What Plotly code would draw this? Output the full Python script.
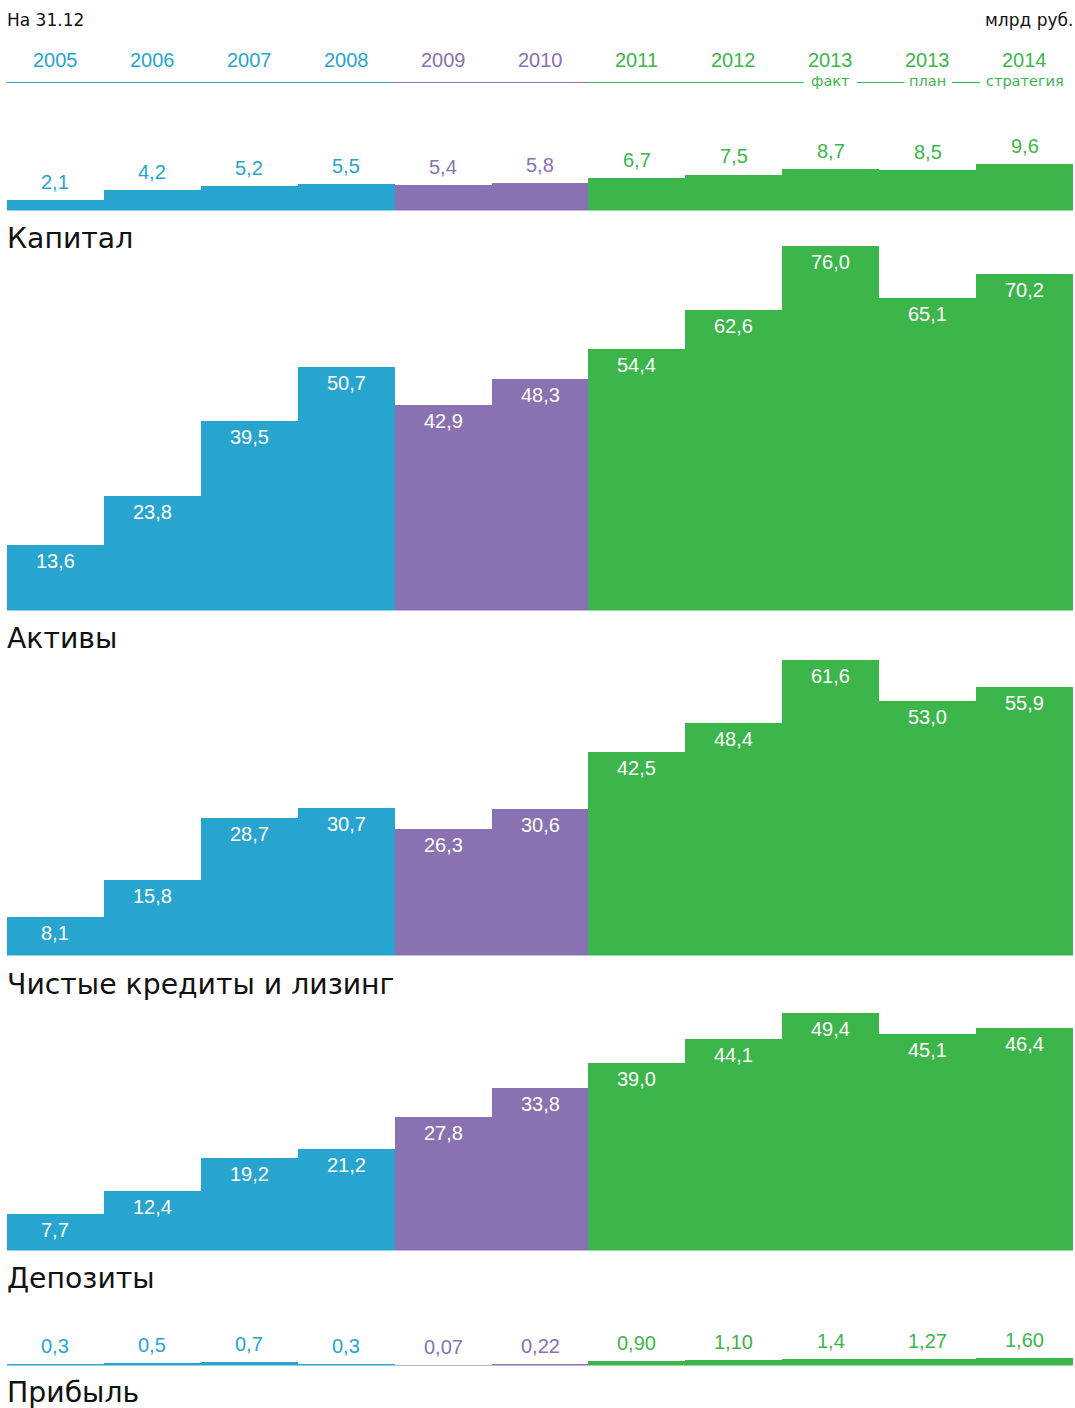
import plotly.graph_objects as go

years = ["2005", "2006", "2007", "2008", "2009", "2010", "2011", "2012", "2013", "2013", "2014"]
sub_labels = ["", "", "", "", "", "", "", "", "факт", "план", "стратегия"]
groups = ["a", "a", "a", "a", "b", "b", "c", "c", "c", "c", "c"]

capital = [2.1, 4.2, 5.2, 5.5, 5.4, 5.8, 6.7, 7.5, 8.7, 8.5, 9.6]
assets = [13.6, 23.8, 39.5, 50.7, 42.9, 48.3, 54.4, 62.6, 76.0, 65.1, 70.2]
loans = [8.1, 15.8, 28.7, 30.7, 26.3, 30.6, 42.5, 48.4, 61.6, 53.0, 55.9]
deposits = [7.7, 12.4, 19.2, 21.2, 27.8, 33.8, 39.0, 44.1, 49.4, 45.1, 46.4]
profit = [0.3, 0.5, 0.7, 0.3, 0.07, 0.22, 0.90, 1.10, 1.4, 1.27, 1.60]
profit_labels = ["0,3", "0,5", "0,7", "0,3", "0,07", "0,22", "0,90", "1,10", "1,4", "1,27", "1,60"]

titles = ["Капитал", "Активы", "Чистые кредиты и лизинг", "Депозиты", "Прибыль"]

COLORS = {"a": "#27a5cf", "b": "#8a71b2", "c": "#3cb54b"}
W, H = 1075, 1408
ML, MR = 7, 2
PX_PER_UNIT = 4.8
FONT = "Liberation Sans, Arial, sans-serif"
FONT_CYR = "DejaVu Sans, Liberation Sans, sans-serif"

def fmt(v):
    return f"{v:.1f}".replace(".", ",")

# panels: (values, labels, inside?, top px, bottom px, title center px)
panels = [
    (capital, [fmt(v) for v in capital], False, 120, 210.5, 239),
    (assets, [fmt(v) for v in assets], True, 240, 610.5, 638),
    (loans, [fmt(v) for v in loans], True, 650, 955.5, 984),
    (deposits, [fmt(v) for v in deposits], True, 1000, 1250.5, 1278),
    (profit, profit_labels, False, 1320, 1365.5, 1392),
]

fig = go.Figure()
annotations = []
x = list(range(len(years)))
bar_colors = [COLORS[g] for g in groups]

for i, (vals, labels, inside, top, bottom, title_y) in enumerate(panels):
    yname = "y" if i == 0 else f"y{i+1}"
    axname = "yaxis" if i == 0 else f"yaxis{i+1}"
    fig.add_trace(go.Bar(
        x=x, y=vals, yaxis=yname, xaxis="x",
        marker=dict(color=bar_colors, line=dict(width=0)),
        width=1.0, hoverinfo="skip", showlegend=False,
    ))
    fig.update_layout(**{axname: dict(
        domain=[1 - bottom / H, 1 - top / H],
        range=[0, (bottom - top) / PX_PER_UNIT],
        showgrid=False, zeroline=False, showticklabels=False,
        fixedrange=True, anchor="x",
    )})
    for xi, v, lab, col in zip(x, vals, labels, bar_colors):
        annotations.append(dict(
            x=xi, y=v, xref="x", yref=yname, text=lab, showarrow=False,
            yanchor="middle", yshift=(-16 if inside else 18),
            font=dict(family=FONT, size=20, color=("white" if inside else col)),
        ))
    annotations.append(dict(
        x=0, y=1 - title_y / H, xref="paper", yref="paper", text=titles[i],
        showarrow=False, xanchor="left", yanchor="middle", xshift=-2,
        font=dict(family=FONT_CYR, size=28.3, color="#111111"),
    ))

# year header
for xi, yr, sl, g in zip(x, years, sub_labels, groups):
    annotations.append(dict(
        x=xi, y=1 - 60 / H, xref="x", yref="paper", text=yr, showarrow=False,
        yanchor="middle", font=dict(family=FONT, size=20, color=COLORS[g]),
    ))
    if sl:
        annotations.append(dict(
            x=xi, y=1 - 81 / H, xref="x", yref="paper", text=sl, showarrow=False,
            yanchor="middle", font=dict(family=FONT_CYR, size=14.5, color=COLORS[g]),
        ))

annotations.append(dict(
    x=0, y=1 - 20 / H, xref="paper", yref="paper", text="На 31.12", showarrow=False,
    xanchor="left", yanchor="middle", xshift=-2,
    font=dict(family=FONT_CYR, size=17, color="#111111"),
))
annotations.append(dict(
    x=1, y=1 - 20 / H, xref="paper", yref="paper", text="млрд руб.", showarrow=False,
    xanchor="right", yanchor="middle", xshift=2,
    font=dict(family=FONT_CYR, size=17, color="#111111"),
))

# header rule with gaps around sub-labels
line_y = 1 - 82.5 / H
segments = [(-0.5, 3.5, "a"), (3.5, 5.5, "b"), (5.5, 7.72, "c"), (8.27, 8.76, "c"), (9.25, 9.54, "c")]
shapes = [dict(type="line", xref="x", yref="paper", x0=a, x1=b, y0=line_y, y1=line_y,
               line=dict(color=COLORS[g], width=1.2)) for a, b, g in segments]

fig.update_layout(
    width=W, height=H,
    margin=dict(l=ML, r=MR, t=0, b=0),
    paper_bgcolor="white", plot_bgcolor="white",
    bargap=0, barmode="group",
    xaxis=dict(range=[-0.5, 10.5], showgrid=False, zeroline=False,
               showticklabels=False, fixedrange=True, domain=[0, 1]),
    annotations=annotations, shapes=shapes,
    showlegend=False,
)

fig.write_html("out.html", config={"displayModeBar": False})
